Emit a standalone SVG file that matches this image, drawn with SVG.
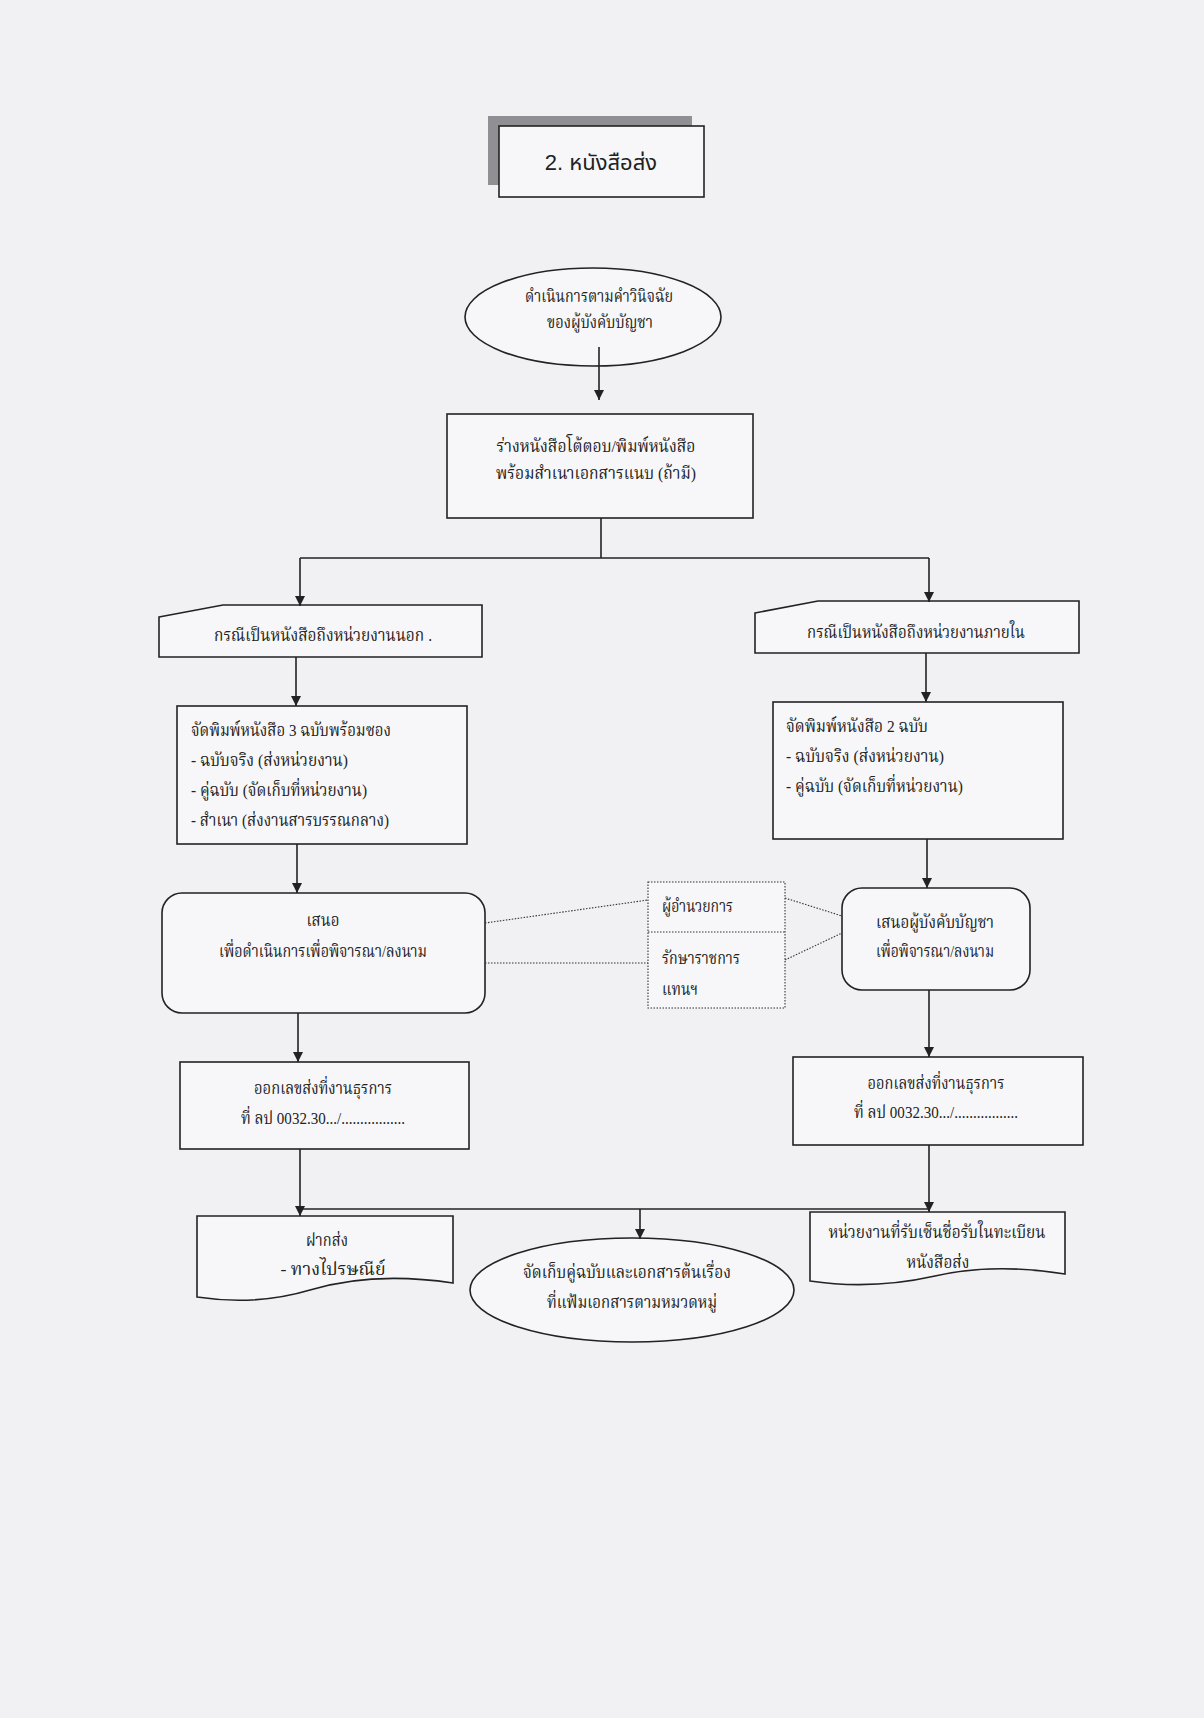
<svg xmlns="http://www.w3.org/2000/svg" width="1204" height="1718" viewBox="0 0 1204 1718">
<defs>
<marker id="ah" viewBox="0 0 10 10" refX="10" refY="5" markerWidth="14" markerHeight="10" markerUnits="userSpaceOnUse" orient="auto">
<path d="M0,0 L10,5 L0,10 z" fill="#222"/>
</marker>
<style>
.s{fill:#f7f7f9;stroke:#222;stroke-width:1.6}
.c{fill:none;stroke:#222;stroke-width:1.6}
.a{fill:none;stroke:#222;stroke-width:1.6;marker-end:url(#ah)}
.d{fill:none;stroke:#333;stroke-width:1.1;stroke-dasharray:1.5 1.5}
.ds{fill:#f7f7f9;stroke:#333;stroke-width:1.1;stroke-dasharray:1.5 1.5}
.t{font-family:"Liberation Serif","Noto Serif Thai","Noto Sans Thai",serif;font-size:17px;fill:#222}
.m{text-anchor:middle}
.h{font-family:"Liberation Sans","Noto Sans Thai","Noto Sans",sans-serif;font-size:22px;fill:#222;text-anchor:middle}
</style>
</defs>
<rect x="0" y="0" width="1204" height="1718" fill="#f1f1f3"/>

<g id="title">
<rect x="488" y="116" width="204" height="69" fill="#8f8f94"/>
<rect x="499" y="126" width="205" height="71" class="s"/>
<text x="601" y="170" class="h">2. หนังสือส่ง</text>
</g>

<g id="n1">
<ellipse cx="593" cy="317" rx="128" ry="49" class="s"/>
<text x="599" y="302" class="t m" textLength="148" lengthAdjust="spacingAndGlyphs">ดำเนินการตามคำวินิจฉัย</text>
<text x="600" y="328" class="t m" textLength="106" lengthAdjust="spacingAndGlyphs">ของผู้บังคับบัญชา</text>
</g>

<g id="n2">
<rect x="447" y="414" width="306" height="104" class="s"/>
<text x="596" y="452" class="t m" textLength="199" lengthAdjust="spacingAndGlyphs">ร่างหนังสือโต้ตอบ/พิมพ์หนังสือ</text>
<text x="596" y="479" class="t m" textLength="200" lengthAdjust="spacingAndGlyphs">พร้อมสำเนาเอกสารแนบ (ถ้ามี)</text>
</g>

<g id="n3">
<path d="M159,617 L223,605 H482 V657 H159 Z" class="s"/>
<text x="214" y="641" class="t" textLength="218" lengthAdjust="spacingAndGlyphs">กรณีเป็นหนังสือถึงหน่วยงานนอก .</text>
</g>

<g id="n4">
<path d="M755,613 L818,601 H1079 V653 H755 Z" class="s"/>
<text x="807" y="638" class="t" textLength="218" lengthAdjust="spacingAndGlyphs">กรณีเป็นหนังสือถึงหน่วยงานภายใน</text>
</g>

<g id="n5">
<rect x="177" y="706" width="290" height="138" class="s"/>
<text x="191" y="736" class="t" textLength="200" lengthAdjust="spacingAndGlyphs">จัดพิมพ์หนังสือ 3 ฉบับพร้อมซอง</text>
<text x="191" y="766" class="t" textLength="157" lengthAdjust="spacingAndGlyphs">-  ฉบับจริง (ส่งหน่วยงาน)</text>
<text x="191" y="796" class="t" textLength="176" lengthAdjust="spacingAndGlyphs">-  คู่ฉบับ (จัดเก็บที่หน่วยงาน)</text>
<text x="191" y="826" class="t" textLength="198" lengthAdjust="spacingAndGlyphs">-  สำเนา (ส่งงานสารบรรณกลาง)</text>
</g>

<g id="n6">
<rect x="773" y="702" width="290" height="137" class="s"/>
<text x="786" y="732" class="t" textLength="142" lengthAdjust="spacingAndGlyphs">จัดพิมพ์หนังสือ 2 ฉบับ</text>
<text x="786" y="762" class="t" textLength="158" lengthAdjust="spacingAndGlyphs">-  ฉบับจริง (ส่งหน่วยงาน)</text>
<text x="786" y="792" class="t" textLength="177" lengthAdjust="spacingAndGlyphs">-  คู่ฉบับ (จัดเก็บที่หน่วยงาน)</text>
</g>

<g id="n7">
<rect x="162" y="893" width="323" height="120" rx="20" ry="20" class="s"/>
<text x="323" y="926" class="t m" textLength="33" lengthAdjust="spacingAndGlyphs">เสนอ</text>
<text x="323" y="957" class="t m" textLength="208" lengthAdjust="spacingAndGlyphs">เพื่อดำเนินการเพื่อพิจารณา/ลงนาม</text>
</g>

<g id="n8">
<rect x="648" y="882" width="137" height="126" class="ds"/>
<line x1="648" y1="932" x2="785" y2="932" class="d"/>
<text x="662" y="912" class="t" textLength="71" lengthAdjust="spacingAndGlyphs">ผู้อำนวยการ</text>
<text x="662" y="964" class="t" textLength="78" lengthAdjust="spacingAndGlyphs">รักษาราชการ</text>
<text x="662" y="995" class="t" textLength="36" lengthAdjust="spacingAndGlyphs">แทนฯ</text>
</g>

<g id="n9">
<rect x="842" y="888" width="188" height="102" rx="20" ry="20" class="s"/>
<text x="935" y="928" class="t m" textLength="118" lengthAdjust="spacingAndGlyphs">เสนอผู้บังคับบัญชา</text>
<text x="935" y="957" class="t m" textLength="118" lengthAdjust="spacingAndGlyphs">เพื่อพิจารณา/ลงนาม</text>
</g>

<g id="n10">
<rect x="180" y="1062" width="289" height="87" class="s"/>
<text x="323" y="1094" class="t m" textLength="138" lengthAdjust="spacingAndGlyphs">ออกเลขส่งที่งานธุรการ</text>
<text x="323" y="1124" class="t m" textLength="164" lengthAdjust="spacingAndGlyphs">ที่ ลป 0032.30.../.................</text>
</g>

<g id="n11">
<rect x="793" y="1057" width="290" height="88" class="s"/>
<text x="936" y="1089" class="t m" textLength="137" lengthAdjust="spacingAndGlyphs">ออกเลขส่งที่งานธุรการ</text>
<text x="936" y="1118" class="t m" textLength="164" lengthAdjust="spacingAndGlyphs">ที่ ลป 0032.30.../.................</text>
</g>

<g id="n12">
<path d="M197,1216 H453 V1283 C400,1275 350,1278 310,1290 C270,1302 230,1302 197,1297 Z" class="s"/>
<text x="327" y="1246" class="t m" textLength="42" lengthAdjust="spacingAndGlyphs">ฝากส่ง</text>
<text x="333" y="1275" class="t m" textLength="105" lengthAdjust="spacingAndGlyphs">- ทางไปรษณีย์</text>
</g>

<g id="n13">
<ellipse cx="632" cy="1290" rx="162" ry="52" class="s"/>
<text x="627" y="1278" class="t m" textLength="208" lengthAdjust="spacingAndGlyphs">จัดเก็บคู่ฉบับและเอกสารต้นเรื่อง</text>
<text x="632" y="1308" class="t m" textLength="170" lengthAdjust="spacingAndGlyphs">ที่แฟ้มเอกสารตามหมวดหมู่</text>
</g>

<g id="n14">
<path d="M810,1212 H1065 V1274 C1015,1266 970,1268 935,1276 C895,1285 850,1287 810,1281 Z" class="s"/>
<text x="937" y="1238" class="t m" textLength="217" lengthAdjust="spacingAndGlyphs">หน่วยงานที่รับเซ็นชื่อรับในทะเบียน</text>
<text x="938" y="1268" class="t m" textLength="63" lengthAdjust="spacingAndGlyphs">หนังสือส่ง</text>
</g>

<g id="connectors">
<path d="M599,347 V400" class="a"/>
<path d="M601,518 V558" class="c"/>
<path d="M300,558 H929" class="c"/>
<path d="M300,558 V606" class="a"/>
<path d="M929,558 V602" class="a"/>
<path d="M296,657 V706" class="a"/>
<path d="M926,653 V702" class="a"/>
<path d="M297,844 V893" class="a"/>
<path d="M927,839 V888" class="a"/>
<path d="M298,1013 V1062" class="a"/>
<path d="M929,990 V1057" class="a"/>
<path d="M300,1149 V1216" class="a"/>
<path d="M300,1209 H929" class="c"/>
<path d="M929,1145 V1212" class="a"/>
<path d="M640,1209 V1239" class="a"/>
<path d="M485,923 L648,900" class="d"/>
<path d="M485,963 H648" class="d"/>
<path d="M785,898 L842,916" class="d"/>
<path d="M785,960 L842,933" class="d"/>
</g>
</svg>
